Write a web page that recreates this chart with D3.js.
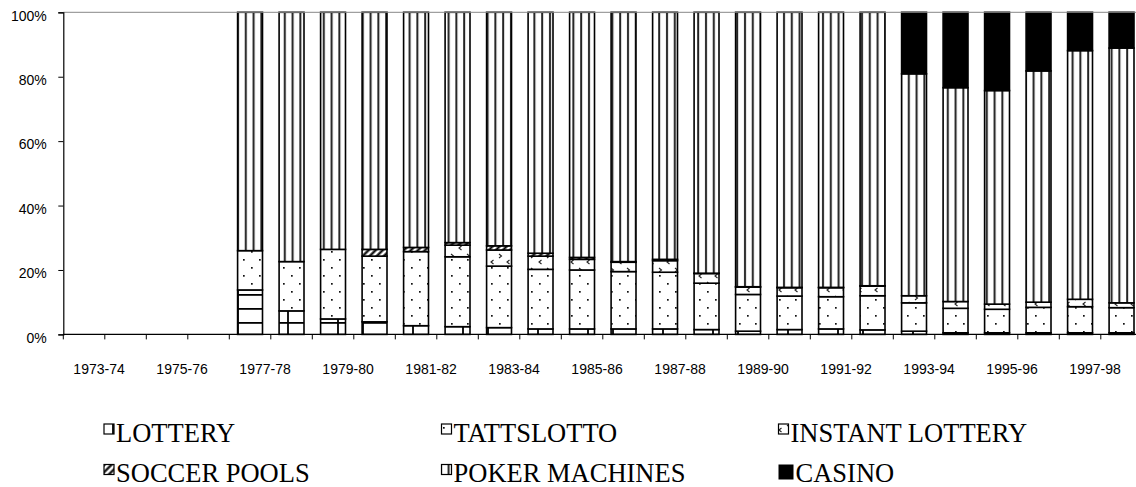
<!DOCTYPE html>
<html>
<head>
  <meta charset="utf-8">
  <title>Gambling Expenditure Shares</title>
  <script src="https://d3js.org/d3.v7.min.js"></script>
  <style>
    body {
      margin: 0;
      background: #fff;
    }
    .tick-label {
      font-family: "Liberation Sans", Arial, sans-serif;
      font-size: 14px;
      fill: #000;
    }
  </style>
</head>
<body>
  <div id="chart"></div>
  <script>
    // Financial years on the category axis
    var years = ["1973-74", "1974-75", "1975-76", "1976-77", "1977-78", "1978-79", "1979-80",
      "1980-81", "1981-82", "1982-83", "1983-84", "1984-85", "1985-86", "1986-87", "1987-88",
      "1988-89", "1989-90", "1990-91", "1991-92", "1992-93", "1993-94", "1994-95", "1995-96",
      "1996-97", "1997-98", "1998-99"];

    // Share of total (percent) for each form of gambling
    var lottery = [0, 0, 0, 0, 13.8, 7.3, 4.8, 3.9, 2.7, 2.4, 2.1, 1.7, 1.7, 1.7, 1.7,
      1.5, 1.0, 1.5, 1.7, 1.4, 1.0, 0.5, 0.5, 0.5, 0.5, 0.5];
    var tattslotto = [0, 0, 0, 0, 12.2, 15.3, 21.6, 20.4, 23.0, 21.7, 19.1, 18.5, 18.3, 17.8, 17.6,
      14.4, 11.4, 10.4, 10.0, 10.6, 8.8, 7.6, 7.3, 7.9, 8.1, 7.8];
    var instantLottery = [0, 0, 0, 0, 0, 0, 0, 0, 0, 3.6, 5.0, 4.1, 3.3, 2.9, 3.6,
      3.0, 2.3, 2.6, 2.8, 3.0, 2.2, 2.1, 1.6, 1.6, 2.3, 1.5];
    var soccerPools = [0, 0, 0, 0, 0, 0, 0, 2.1, 1.3, 0.8, 1.3, 0.9, 0.6, 0.2, 0.4,
      0.1, 0.1, 0.1, 0.1, 0.1, 0, 0, 0, 0, 0, 0];
    var pokerMachines = [0, 0, 0, 0, 74.0, 77.4, 73.6, 73.6, 73.0, 71.5, 72.5, 74.8, 76.1, 77.4, 76.7,
      81.0, 85.2, 85.4, 85.4, 84.9, 68.9, 66.4, 66.3, 71.8, 77.2, 79.1];
    var casino = [0, 0, 0, 0, 0, 0, 0, 0, 0, 0, 0, 0, 0, 0, 0,
      0, 0, 0, 0, 0, 19.1, 23.4, 24.3, 18.2, 11.9, 11.1];

    var seriesNames = ["LOTTERY", "TATTSLOTTO", "INSTANT LOTTERY", "SOCCER POOLS", "POKER MACHINES", "CASINO"];
    var seriesValues = [lottery, tattslotto, instantLottery, soccerPools, pokerMachines, casino];
    var yTicks = [0, 20, 40, 60, 80, 100];

    // build a table for d3.stack
    var table = years.map(function(y, i) {
      var row = { year: y };
      seriesNames.forEach(function(name, k) { row[name] = seriesValues[k][i]; });
      return row;
    });

    var svg = d3.select("#chart")
      .append("svg")
      .attr("width", 1136)
      .attr("height", 487);

    var margin = {top: 12.3, left: 63.3};
    var step = 41.5;
    var height = 322.1;

    var x = d3.scaleBand()
      .domain(years)
      .range([margin.left, margin.left + step * years.length])
      .paddingInner(0.4)
      .paddingOuter(0.2);

    var y = d3.scaleLinear()
      .domain([0, 100])
      .range([margin.top + height, margin.top]);

    // fill patterns
    var defs = svg.append("defs");

    var p1 = defs.append("pattern").attr("id", "pat-lottery")
      .attr("patternUnits", "userSpaceOnUse").attr("width", 25).attr("height", 14);
    p1.append("rect").attr("width", 25).attr("height", 14).attr("fill", "#fff");
    p1.append("line").attr("x1", 13).attr("x2", 13).attr("y1", 0).attr("y2", 14)
      .attr("stroke", "#000").attr("stroke-width", 1.8);
    p1.append("line").attr("x1", 0).attr("x2", 25).attr("y1", 0.9).attr("y2", 0.9)
      .attr("stroke", "#000").attr("stroke-width", 1.8);

    var p2 = defs.append("pattern").attr("id", "pat-tatts")
      .attr("patternUnits", "userSpaceOnUse").attr("width", 16).attr("height", 16);
    p2.append("rect").attr("width", 16).attr("height", 16).attr("fill", "#fff");
    p2.append("rect").attr("x", 3).attr("y", 3).attr("width", 1.7).attr("height", 1.7).attr("fill", "#111");
    p2.append("rect").attr("x", 11).attr("y", 11).attr("width", 1.7).attr("height", 1.7).attr("fill", "#111");

    var p3 = defs.append("pattern").attr("id", "pat-instant")
      .attr("patternUnits", "userSpaceOnUse").attr("width", 16).attr("height", 14);
    p3.append("rect").attr("width", 16).attr("height", 14).attr("fill", "#fff");
    p3.append("path").attr("d", "M3,2 L5.5,4 L3,6").attr("fill", "none")
      .attr("stroke", "#222").attr("stroke-width", 1.1);
    p3.append("path").attr("d", "M13.5,8 L11,10 L13.5,12").attr("fill", "none")
      .attr("stroke", "#222").attr("stroke-width", 1.1);

    var p4 = defs.append("pattern").attr("id", "pat-soccer")
      .attr("patternUnits", "userSpaceOnUse").attr("width", 5).attr("height", 5)
      .attr("patternTransform", "rotate(-45)");
    p4.append("rect").attr("width", 5).attr("height", 5).attr("fill", "#fff");
    p4.append("line").attr("x1", 0).attr("x2", 5).attr("y1", 2.5).attr("y2", 2.5)
      .attr("stroke", "#000").attr("stroke-width", 2.2);

    var p5 = defs.append("pattern").attr("id", "pat-poker")
      .attr("patternUnits", "userSpaceOnUse").attr("width", 7.8).attr("height", 8);
    p5.append("rect").attr("width", 7.8).attr("height", 8).attr("fill", "#fff");
    p5.append("line").attr("x1", 4).attr("x2", 4).attr("y1", 0).attr("y2", 8)
      .attr("stroke", "#222").attr("stroke-width", 2);

    var fills = ["url(#pat-lottery)", "url(#pat-tatts)", "url(#pat-instant)",
      "url(#pat-soccer)", "url(#pat-poker)", "#000"];

    // stacked bars
    var stacked = d3.stack().keys(seriesNames)(table);

    svg.selectAll(".series")
      .data(stacked)
      .enter()
      .append("g")
      .attr("class", "series")
      .attr("fill", function(d, i) { return fills[i]; })
      .selectAll("rect")
      .data(function(d) { return d.filter(function(e) { return e[1] - e[0] > 0; }); })
      .enter()
      .append("rect")
      .attr("x", function(d) { return x(d.data.year); })
      .attr("width", x.bandwidth())
      .attr("y", function(d) { return y(d[1]); })
      .attr("height", function(d) { return y(d[0]) - y(d[1]); })
      .attr("stroke", "#000")
      .attr("stroke-width", 1.6);

    // top border line at 100%
    svg.append("line")
      .attr("x1", margin.left).attr("x2", 1136)
      .attr("y1", y(100)).attr("y2", y(100))
      .attr("stroke", "#888").attr("stroke-width", 1);

    // y axis
    var yAxis = svg.append("g")
      .attr("transform", "translate(" + margin.left + ",0)")
      .call(d3.axisLeft(y).tickValues(yTicks).tickSize(5).tickFormat(function(d) { return d + "%"; }));
    yAxis.attr("font-family", null).attr("font-size", null);
    yAxis.select(".domain").attr("stroke", "#000").attr("stroke-width", 1.2);
    yAxis.selectAll(".tick line").attr("stroke", "#000");
    yAxis.selectAll(".tick text")
      .attr("class", "tick-label")
      .attr("x", -16.5)
      .attr("dy", "0.55em");

    // x axis line with ticks at category boundaries
    var xAxis = svg.append("g");
    xAxis.append("line")
      .attr("x1", margin.left).attr("x2", 1136)
      .attr("y1", y(0)).attr("y2", y(0))
      .attr("stroke", "#000").attr("stroke-width", 1.2);
    xAxis.selectAll(".xtick")
      .data(years)
      .enter()
      .append("line")
      .attr("x1", function(d) { return x(d) - x.step() * 0.2; })
      .attr("x2", function(d) { return x(d) - x.step() * 0.2; })
      .attr("y1", y(0)).attr("y2", y(0) + 5)
      .attr("stroke", "#000");

    // every second category gets a label
    xAxis.selectAll(".xlabel")
      .data(years.filter(function(d, i) { return i % 2 === 0; }))
      .enter()
      .append("text")
      .attr("class", "tick-label")
      .attr("x", function(d) { return x(d) + x.bandwidth() / 2 + 15; })
      .attr("y", 374)
      .attr("text-anchor", "middle")
      .text(function(d) { return d; });

    // legend, three columns by two rows
    var legendX = [104, 441.5, 778.5];
    var legendY = [441.5, 482];
    var legend = svg.append("g");
    seriesNames.forEach(function(name, i) {
      var col = i % 3, row = Math.floor(i / 3);
      var big = name === "CASINO";
      var size = big ? 15 : 10;
      legend.append("rect")
        .attr("x", legendX[col])
        .attr("y", legendY[row] - 17.5)
        .attr("width", size)
        .attr("height", size)
        .attr("fill", fills[i])
        .attr("stroke", "#000")
        .attr("stroke-width", big ? 0 : 1.2);
      legend.append("text")
        .attr("x", legendX[col] + (big ? 17 : 12))
        .attr("y", legendY[row])
        .style("font-family", "'Liberation Serif', 'Times New Roman', 'DejaVu Serif', serif")
        .style("font-size", "26.5px")
        .style("fill", "#000")
        .text(name);
    });
  </script>
</body>
</html>
